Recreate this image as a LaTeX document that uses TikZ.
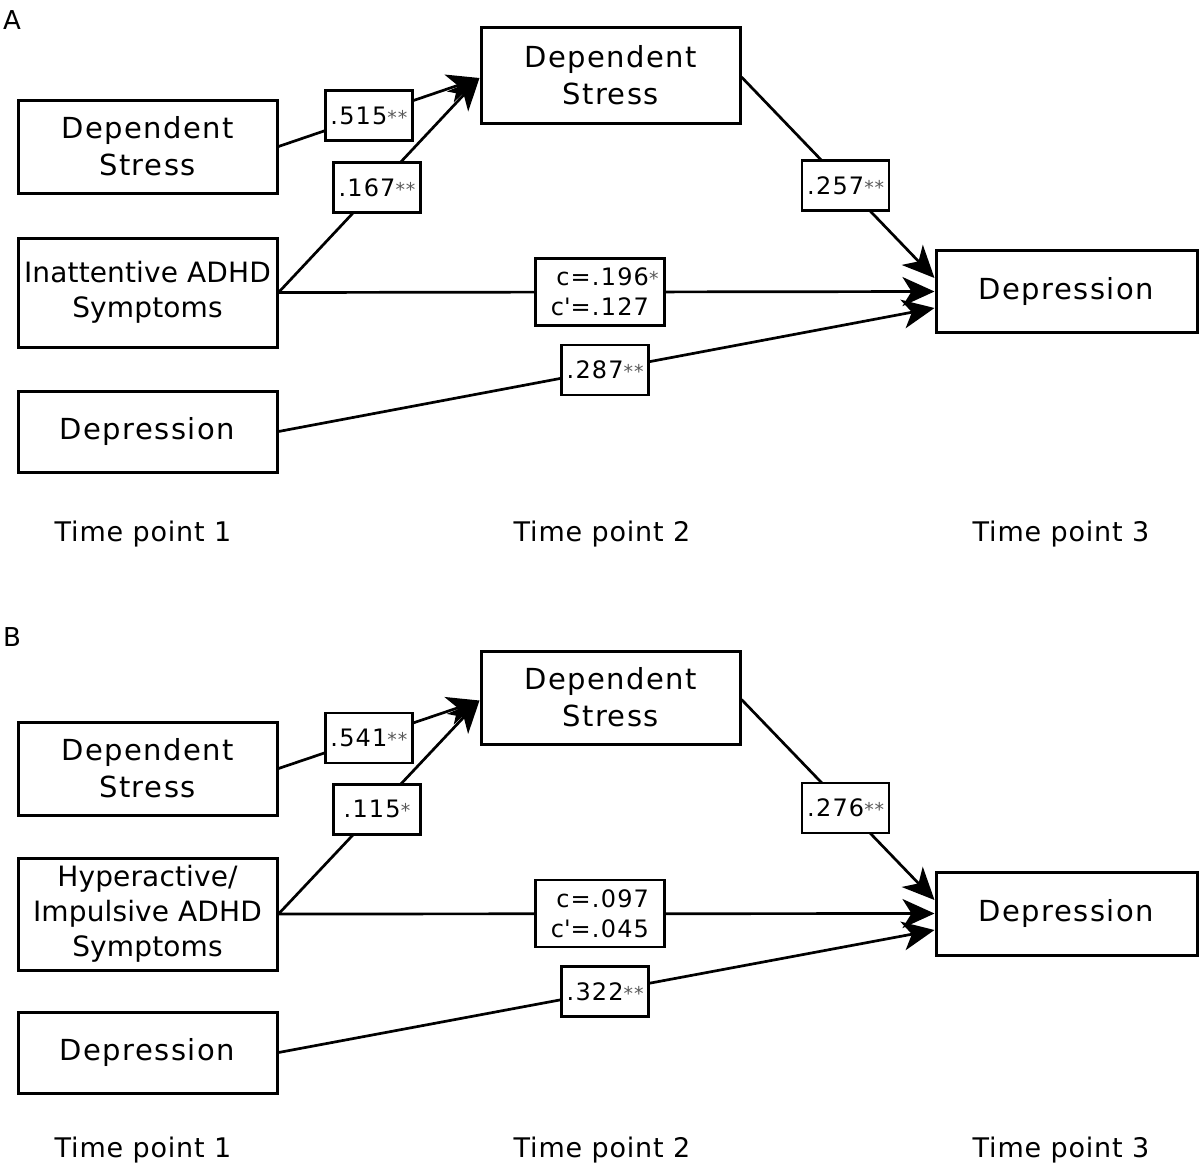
\documentclass[tikz,border=0pt]{standalone}
\usepackage{fontspec}
\setmainfont[LetterSpace=5]{DejaVu Sans}
\newfontfamily\tightfam[LetterSpace=0.5]{DejaVu Sans}
\newfontfamily\timefam[LetterSpace=3]{DejaVu Sans}
\usetikzlibrary{arrows.meta}
\newcommand\boxfont{\fontsize{29}{37}\selectfont}
\newcommand\lblfont{\fontsize{24}{30}\selectfont}
\newcommand\sigm[1]{{\color{black!65}\fontsize{19}{19}\selectfont #1}}
\newcommand\apos{\textquotesingle}
\tikzset{
  box/.style={draw, line width=3pt, minimum width=259pt, align=center, inner sep=0pt, font=\boxfont},
  lbl/.style={draw, fill=white, line width=2.4pt, minimum height=50pt, minimum width=87pt, inner sep=0pt, font=\lblfont},
  clbl/.style={lbl, minimum width=129pt, minimum height=67pt, align=right},
  arr/.style={line width=2.7pt, -{Stealth[length=32pt,width=29pt,inset=9pt]}},
  tlabel/.style={font=\timefam\fontsize{27}{27}\selectfont, inner sep=0pt},
  plabel/.style={font=\timefam\fontsize{26}{26}\selectfont, inner sep=0pt},
}
\begin{document}
\begin{tikzpicture}[x=1pt,y=-1pt]
\useasboundingbox (0,0) rectangle (1200,1170);
% ---------- Panel A ----------
\node[plabel] (pA) at (12,20) {A};
\node[box, minimum height=93pt] (ldsA) at (147.5,146.5) {Dependent\\Stress};
\node[box, minimum height=109pt, font=\tightfam\fontsize{28}{35}\selectfont] (iadA) at (147.5,292.5) {Inattentive ADHD\\Symptoms};
\node[box, minimum height=81pt] (ldepA) at (147.5,431.5) {Depression};
\node[box, minimum height=96pt] (tdsA) at (610.5,75) {Dependent\\Stress};
\node[box, minimum width=261pt, minimum height=82pt] (rdepA) at (1066.5,291.5) {Depression};
\node[tlabel] (t1A) at (143,534) {Time point 1};
\node[tlabel] (t2A) at (602,534) {Time point 2};
\node[tlabel] (t3A) at (1061,534) {Time point 3};
\coordinate (tipTA) at ([yshift=-3pt]tdsA.west);
\coordinate (outTA) at ([yshift=-2pt]tdsA.east);
\coordinate (tip1A) at ([yshift=13.5pt]rdepA.west);
\coordinate (tip3A) at ([yshift=-16.5pt]rdepA.west);
\draw[arr] (ldsA.east) -- node[lbl,pos=.45]{.515\sigm{**}} (tipTA);
\draw[arr] (iadA.east) -- node[lbl,pos=.49]{.167\sigm{**}} (tipTA);
\draw[arr] (outTA) -- node[lbl,pos=.54]{.257\sigm{**}} (tip1A);
\draw[arr] (iadA.east) -- node[clbl,pos=.49]{c=.196\rlap{\sigm{*}}\\c\apos=.127} (rdepA.west);
\draw[arr] (ldepA.east) -- node[lbl,pos=.498]{.287\sigm{**}} (tip3A);
% ---------- Panel B ----------
\node[plabel] (pB) at (12,637) {B};
\node[box, minimum height=93pt] (ldsB) at (147.5,768.5) {Dependent\\Stress};
\node[box, minimum height=112pt, font=\tightfam\fontsize{28}{35}\selectfont] (hypB) at (147.5,914) {Hyperactive/\\Impulsive ADHD\\Symptoms};
\node[box, minimum height=81pt] (ldepB) at (147.5,1052.5) {Depression};
\node[box, minimum height=93pt] (tdsB) at (610.5,697.5) {Dependent\\Stress};
\node[box, minimum width=261pt, minimum height=83pt] (rdepB) at (1066.5,913.5) {Depression};
\node[tlabel] (t1B) at (143,1150) {Time point 1};
\node[tlabel] (t2B) at (602,1150) {Time point 2};
\node[tlabel] (t3B) at (1061,1150) {Time point 3};
\coordinate (tipTB) at ([yshift=-3pt]tdsB.west);
\coordinate (outTB) at ([yshift=-2pt]tdsB.east);
\coordinate (tip1B) at ([yshift=13.5pt]rdepB.west);
\coordinate (tip3B) at ([yshift=-16.5pt]rdepB.west);
\draw[arr] (ldsB.east) -- node[lbl,pos=.45]{.541\sigm{**}} (tipTB);
\draw[arr] (hypB.east) -- node[lbl,pos=.49]{.115\sigm{*}} (tipTB);
\draw[arr] (outTB) -- node[lbl,pos=.54]{.276\sigm{**}} (tip1B);
\draw[arr] (hypB.east) -- node[clbl,pos=.49]{c=.097\\c\apos=.045} (rdepB.west);
\draw[arr] (ldepB.east) -- node[lbl,pos=.498]{.322\sigm{**}} (tip3B);
\end{tikzpicture}
\end{document}
